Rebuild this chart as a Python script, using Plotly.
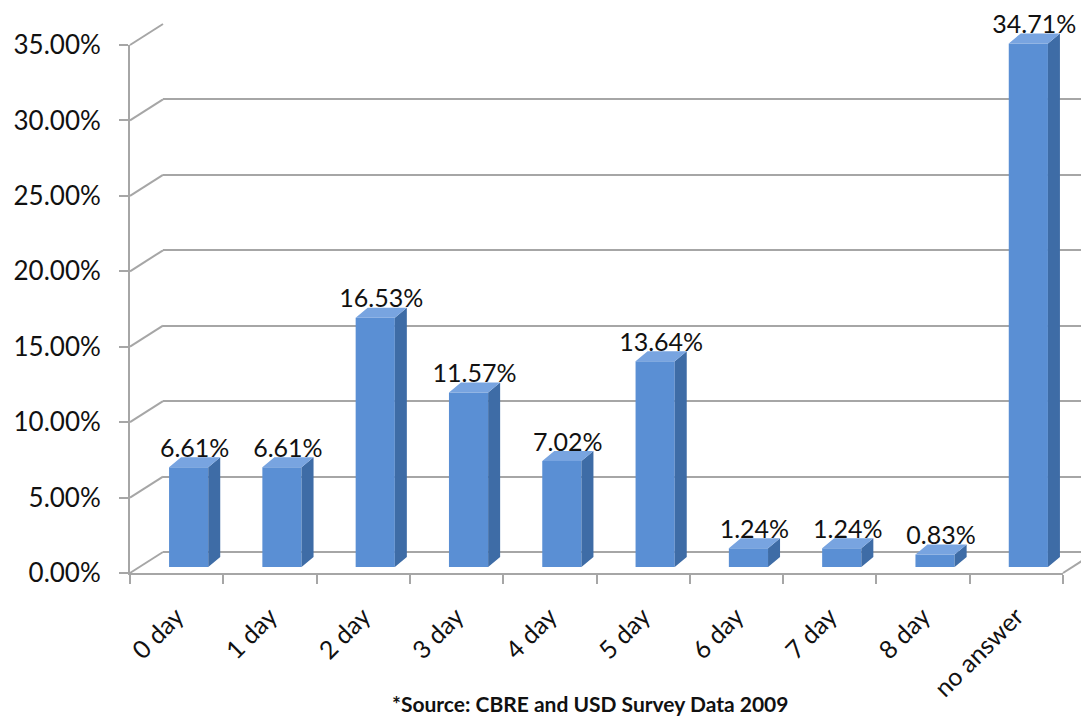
import plotly.graph_objects as go

# ---- data ----
categories = ["0 day", "1 day", "2 day", "3 day", "4 day", "5 day", "6 day", "7 day", "8 day", "no answer"]
values = [6.61, 6.61, 16.53, 11.57, 7.02, 13.64, 1.24, 1.24, 0.83, 34.71]
y_ticks = [0, 5, 10, 15, 20, 25, 30, 35]
y_tick_text = [f"{v:.2f}%" for v in y_ticks]
source_text = "*Source: CBRE and USD Survey Data 2009"

# ---- geometry (page pixels) ----
W, H = 1089, 719
OFF = 8                       # page body margin
FW, FH = W - OFF, H - OFF     # figure size
FX0, FX1 = 130, 1063          # front plane x extents
FY0, FY35 = 573, 45           # front plane y for 0 and 35
BACK_DX, BACK_DY = 33, -21    # back wall offset
BAR_DX, BAR_DY = 12, -6       # bar plane offset
YMAX = 35.0
BAR_YMAX = 37.0               # extra headroom so the top label is kept
cat_px = (FX1 - FX0) / len(categories)
val_px = (FY0 - FY35) / YMAX

def px(x):
    return (x - OFF) / FW

def py(y):
    return (H - y) / FH

GRID = "#A6A6A6"
FRONT = "#5A8FD4"
SIDE = "#3E6CA6"
TOP = "#78A4E0"
TXT = "#111111"
FONT = "Lato"

fig = go.Figure()

# front axes (tick labels / axis lines)
fig.add_trace(go.Scatter(x=categories, y=values, mode="markers", marker=dict(opacity=0),
                         hoverinfo="skip", showlegend=False, xaxis="x", yaxis="y"))
# back wall axes
fig.add_trace(go.Scatter(x=[0], y=[0], mode="markers", marker=dict(opacity=0),
                         hoverinfo="skip", showlegend=False, xaxis="x2", yaxis="y2"))

# bars (front faces)
idx = list(range(len(categories)))
bw = 0.42
fig.add_trace(go.Bar(x=idx, y=values, width=bw, marker=dict(color=FRONT, line=dict(width=0)),
                     showlegend=False, hoverinfo="skip", xaxis="x3", yaxis="y3"))

# 3D side and top faces computed from values
ddy = 10 / val_px
ddxp = 12 / cat_px
sx, sy, tx, ty = [], [], [], []
for i, v in zip(idx, values):
    r = i + bw / 2
    l = i - bw / 2
    sx += [r, r + ddxp, r + ddxp, r, r, None]
    sy += [0, ddy, v + ddy, v, 0, None]
    tx += [l, l + ddxp, r + ddxp, r, l, None]
    ty += [v, v + ddy, v + ddy, v, v, None]
fig.add_trace(go.Scatter(x=sx, y=sy, fill="toself", fillcolor=SIDE, mode="lines",
                         line=dict(width=0, color=SIDE), hoverinfo="skip", showlegend=False,
                         xaxis="x3", yaxis="y3"))
fig.add_trace(go.Scatter(x=tx, y=ty, fill="toself", fillcolor=TOP, mode="lines",
                         line=dict(width=0, color=TOP), hoverinfo="skip", showlegend=False,
                         xaxis="x3", yaxis="y3"))
# data labels
lab_dy = ddy - 6 / val_px
fig.add_trace(go.Scatter(x=[i + ddxp / 2 for i in idx], y=[v + lab_dy for v in values],
                         mode="text", text=[f"{v:.2f}%" for v in values],
                         textposition="top center", cliponaxis=False,
                         textfont=dict(family=FONT, size=25, color=TXT),
                         hoverinfo="skip", showlegend=False, xaxis="x3", yaxis="y3"))

# back wall x range to keep same scale while clipped at the canvas edge
bx0 = FX0 + BACK_DX
back_range_end = -0.5 + (W - bx0) / cat_px

shapes = []
for v in y_ticks:
    yf = FY0 - v * val_px
    shapes.append(dict(type="line", xref="paper", yref="paper",
                       x0=px(FX0), y0=py(yf), x1=px(FX0 + BACK_DX), y1=py(yf + BACK_DY),
                       line=dict(color=GRID, width=2)))
shapes.append(dict(type="line", xref="paper", yref="paper",
                   x0=px(FX1), y0=py(FY0), x1=px(FX1 + BACK_DX), y1=py(FY0 + BACK_DY),
                   line=dict(color=GRID, width=2)))

bar_base = FY0 + BAR_DY
bar_top = bar_base - BAR_YMAX * val_px

fig.update_layout(
    width=FW, height=FH,
    margin=dict(l=0, r=0, t=0, b=0, autoexpand=False),
    paper_bgcolor="white", plot_bgcolor="rgba(0,0,0,0)",
    showlegend=False,
    shapes=shapes,
    xaxis=dict(domain=[px(FX0), px(FX1)], type="category", categoryorder="array",
               categoryarray=categories, range=[-0.5, len(categories) - 0.5],
               showline=True, linecolor=GRID, linewidth=2, showgrid=False, zeroline=False,
               ticks="outside", tickson="boundaries", ticklen=9, tickwidth=2, tickcolor=GRID,
               tickangle=-45, ticklabelstandoff=17, automargin=False,
               tickfont=dict(family=FONT, size=25, color=TXT), anchor="y"),
    yaxis=dict(domain=[py(FY0), py(FY35)], range=[0, YMAX], tickvals=y_ticks, ticktext=y_tick_text,
               showline=True, linecolor=GRID, linewidth=2, showgrid=False, zeroline=False,
               ticks="outside", ticklen=9, tickwidth=2, tickcolor=GRID, ticklabelstandoff=13,
               automargin=False,
               tickfont=dict(family=FONT, size=26, color=TXT), anchor="x"),
    xaxis2=dict(domain=[px(bx0), 1.0], range=[-0.5, back_range_end], visible=False, anchor="y2",
                automargin=False),
    yaxis2=dict(domain=[py(FY0 + BACK_DY), py(FY35 + BACK_DY)], range=[0, YMAX], tickvals=y_ticks,
                showgrid=True, gridcolor=GRID, gridwidth=2, zeroline=True, zerolinecolor=GRID,
                zerolinewidth=2, showticklabels=False, showline=False, ticks="", anchor="x2",
                automargin=False),
    xaxis3=dict(domain=[px(FX0 + BAR_DX), px(FX1 + BAR_DX)], range=[-0.5, len(categories) - 0.5],
                visible=False, anchor="y3", automargin=False),
    yaxis3=dict(domain=[py(bar_base), min(1.0, py(bar_top))], range=[0, BAR_YMAX], visible=False,
                anchor="x3", automargin=False),
    annotations=[dict(text=source_text, xref="paper", yref="paper", x=px(590), y=py(703),
                      xanchor="center", yanchor="middle", showarrow=False,
                      font=dict(family=FONT, size=21, color=TXT, weight="bold"))],
)

fig.write_html("out.html")
